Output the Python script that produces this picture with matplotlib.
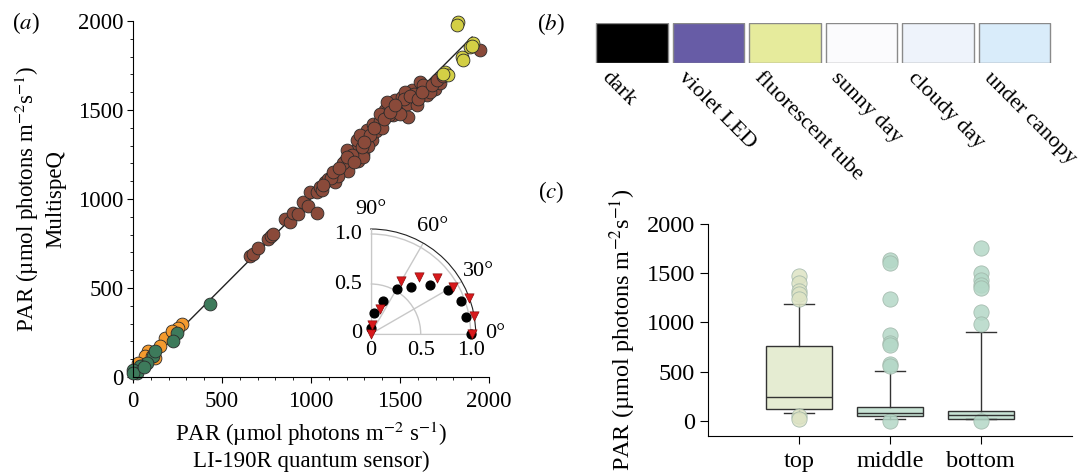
import numpy as np
import matplotlib.pyplot as plt
from matplotlib.ticker import MultipleLocator

plt.rcParams['font.family'] = ['Liberation Serif', 'DejaVu Serif']
plt.rcParams['mathtext.fontset'] = 'stix'
plt.rcParams['font.size'] = 16

# (a) MultispeQ vs LI-190R, grouped by light source
brown_x = [657, 672, 704, 760, 775, 788, 854, 882, 901, 929, 957, 985, 1032, 994,
           1032, 1051, 1079, 1097, 1116, 1135, 1153, 1172, 1191, 1210, 1219, 1247,
           1266, 1294, 1191, 1238, 1257, 1313, 1341, 1350, 1388, 1416, 1453, 1472,
           1491, 1510, 1538, 1547, 1566, 1594, 1612, 1650, 1697, 1725, 1257, 1275,
           1200, 1294, 1425, 1462, 1528, 1388, 1669, 1949, 1150, 1180, 1230, 1320,
           1365, 1400, 1440, 1480, 1520, 1580, 1630, 1060, 1110, 1285, 1330, 1500,
           1070, 1125, 1160, 1205, 1240, 1300, 1355, 1410, 1445, 1470, 1555, 1600,
           1625, 1680, 1710, 1740, 1760, 1900]
brown_y = [680, 690, 723, 774, 793, 802, 887, 868, 924, 915, 981, 962, 924, 1037,
           1037, 1065, 1094, 1113, 1131, 1094, 1141, 1169, 1188, 1160, 1226, 1244,
           1216, 1254, 1216, 1244, 1282, 1385, 1329, 1423, 1441, 1498, 1517, 1554,
           1498, 1573, 1536, 1460, 1611, 1526, 1658, 1583, 1620, 1649, 1329, 1357,
           1273, 1235, 1545, 1470, 1601, 1479, 1601, 1837, 1130, 1200, 1250, 1300,
           1380, 1400, 1470, 1500, 1560, 1590, 1640, 1050, 1120, 1290, 1360, 1480,
           1080, 1150, 1175, 1235, 1210, 1320, 1400, 1450, 1490, 1530, 1580, 1560,
           1600, 1640, 1670, 1690, 1700, 1860]
yellow_x = [1828, 1819, 1912, 1893, 1905, 1846, 1856, 1753, 1771, 1743]
yellow_y = [1996, 1977, 1874, 1855, 1862, 1799, 1780, 1714, 1696, 1705]
orange_x = [277, 254, 180, 152, 86, 67, 124, 30, 217, 45, 105]
orange_y = [295, 276, 219, 173, 144, 116, 107, 78, 257, 60, 120]
green_x = [433, 245, 226, 114, 124, 77, 39, 11, 2, 21, 0, 60]
green_y = [411, 248, 201, 116, 144, 78, 60, 32, 41, 22, 20, 55]
fit_x = [0, 1905]
fit_y = [0, 1910]

# inset: relative response vs incidence angle
inset_angle = [90, 80, 70, 60, 50, 40, 30, 20, 10, 0]
black_r = [0.06, 0.21, 0.35, 0.52, 0.62, 0.77, 0.89, 0.96, 0.97, 1.00]
red_r = [0.0, 0.09, 0.27, 0.61, 0.75, 0.87, 0.95, 1.05, 1.05, 1.01]

# (b) light conditions
conditions = ['dark', 'violet LED', 'fluorescent tube', 'sunny day', 'cloudy day', 'under canopy']
cond_colors = ['#000000', '#675ca6', '#e6eb9c', '#fbfbfd', '#eef3fb', '#d9ecfa']

# (c) canopy position boxplots
positions = ['top', 'middle', 'bottom']
q1 = [115, 44, 17]
med = [238, 75, 58]
q3 = [764, 139, 98]
whislo = [81, 20, 14]
whishi = [1188, 503, 907]
fliers = [[1474, 1399, 1324, 1290, 1236, 45, 20],
          [1637, 1603, 1236, 876, 788, 767, 577, 557, 0],
          [1756, 1501, 1433, 1382, 1348, 1110, 985, 0]]
box_colors = ['#e5ecd2', '#c8e3d5', '#c8e3d5']
flier_colors = ['#dde3c4', '#b4d8c7', '#b4d8c7']

unit = 'PAR (µmol photons m$^{-2}$ s$^{-1}$)'

fig = plt.figure(figsize=(10.8, 4.74), dpi=100)

# ---- (a)
ax = fig.add_axes([133/1080, 1-377/474, 356/1080, 356/474])
ax.plot(fit_x, fit_y, color='#222222', lw=1, zorder=1)
kw = dict(s=85, edgecolors='#2b2b2b', linewidths=0.6, clip_on=False, zorder=2)
ax.scatter(brown_x, brown_y, color='#8a4a3a', **kw)
ax.scatter(yellow_x, yellow_y, color='#d3cf45', **kw)
ax.scatter(orange_x, orange_y, color='#f49a2e', **kw)
ax.scatter(green_x, green_y, color='#3d7a5b', **kw)
ax.set_xlim(0, 2000)
ax.set_ylim(0, 2000)
for s in ['top', 'right']:
    ax.spines[s].set_visible(False)
ax.xaxis.set_major_locator(MultipleLocator(500))
ax.yaxis.set_major_locator(MultipleLocator(500))
ax.xaxis.set_minor_locator(MultipleLocator(100))
ax.yaxis.set_minor_locator(MultipleLocator(100))
ax.tick_params(which='major', length=4, direction='out', labelsize=16.5, pad=3)
ax.tick_params(axis='x', which='major', pad=6)
ax.tick_params(which='minor', length=2.5, direction='out')
ax.set_xlabel(unit + '\nLI-190R quantum sensor)', fontsize=16.5, linespacing=1.15,
              labelpad=6)
ax.set_ylabel('PAR (µmol photons m$^{-2}$s$^{-1}$)\nMultispeQ', fontsize=16.5,
              linespacing=1.3, labelpad=8)

# inset polar
axp = fig.add_axes([370.7/1080, 1-334/474, 105/1080, 105/474], projection='polar')
axp.set_facecolor('none')
axp.set_thetamin(0)
axp.set_thetamax(90)
axp.set_rlim(0, 1.05)
axp.set_rticks([0.5, 1.0])
axp.set_yticklabels([])
axp.set_thetagrids([0, 30, 60, 90], labels=['0°', '30°', '60°', '90°'], fontsize=16)
axp.grid(color='#c8c8c8', lw=1)
axp.spines['polar'].set_color('#222222')
axp.spines['start'].set_color('#c8c8c8')
axp.spines['end'].set_color('#c8c8c8')
axp.spines['inner'].set_visible(False)
th = np.deg2rad(inset_angle)
axp.scatter(th, black_r, s=40, color='black', zorder=3, clip_on=False)
axp.scatter(th, red_r, s=45, marker='v', color='#d7191c', edgecolors='#7a0000',
            linewidths=0.4, zorder=4, clip_on=False)
for r, lbl in zip([0, 0.5, 1.0], ['0', '0.5', '1.0']):
    axp.annotate(lbl, xy=(np.pi/2, r), xytext=(-6, 0), textcoords='offset points',
                 ha='right', va='center', fontsize=16, annotation_clip=False)
    axp.annotate(lbl, xy=(0, r), xytext=(0, -5), textcoords='offset points',
                 ha='center', va='top', fontsize=16, annotation_clip=False)

# ---- (b)
axb = fig.add_axes([593.75/1080, 1-62.7/474, 459/1080, 39.4/474])
axb.bar(range(len(conditions)), [1]*len(conditions), width=0.94, bottom=0,
        color=cond_colors, edgecolor='#8a8a8a', linewidth=1)
axb.set_xlim(-0.5, len(conditions)-0.5)
axb.set_ylim(0, 1)
axb.axis('off')
for i, name in enumerate(conditions):
    axb.text(i - 0.27, -0.14, name, rotation=-45, rotation_mode='anchor',
             ha='left', va='top', fontsize=16.2)

# ---- (c)
axc = fig.add_axes([708.3/1080, 1-436/474, 363.4/1080, 211.7/474])
stats = []
for i in range(len(positions)):
    stats.append(dict(med=med[i], q1=q1[i], q3=q3[i], whislo=whislo[i],
                      whishi=whishi[i], fliers=fliers[i], label=positions[i]))
bp = axc.bxp(stats, positions=range(len(positions)), widths=0.72, capwidths=0.33,
             patch_artist=True,
             boxprops=dict(edgecolor='#333333', linewidth=1),
             medianprops=dict(color='#333333', linewidth=1),
             whiskerprops=dict(color='#333333', linewidth=1),
             capprops=dict(color='#333333', linewidth=1))
for i, b in enumerate(bp['boxes']):
    b.set_facecolor(box_colors[i])
for i, f in enumerate(bp['fliers']):
    f.set(marker='o', markersize=11, markerfacecolor=flier_colors[i],
          markeredgecolor='#9fb5a8', markeredgewidth=0.6, alpha=0.85)
axc.set_xlim(-1, 3)
axc.set_ylim(-156, 2000)
axc.set_yticks([0, 500, 1000, 1500, 2000])
for s in ['top', 'right']:
    axc.spines[s].set_visible(False)
axc.tick_params(length=5.5, direction='out', labelsize=17.5, pad=4)
axc.tick_params(axis='x', pad=5)
axc.set_ylabel('PAR (µmol photons m$^{-2}$s$^{-1}$)', fontsize=17.5, labelpad=6)

fig.text(26/1080, 1-23/474, r'($\mathit{a}$)', fontsize=16.5, ha='center', va='center')
fig.text(551/1080, 1-24/474, r'($\mathit{b}$)', fontsize=16.5, ha='center', va='center')
fig.text(551/1080, 1-192/474, r'($\mathit{c}$)', fontsize=16.5, ha='center', va='center')

fig.savefig('out.png', dpi=100)
